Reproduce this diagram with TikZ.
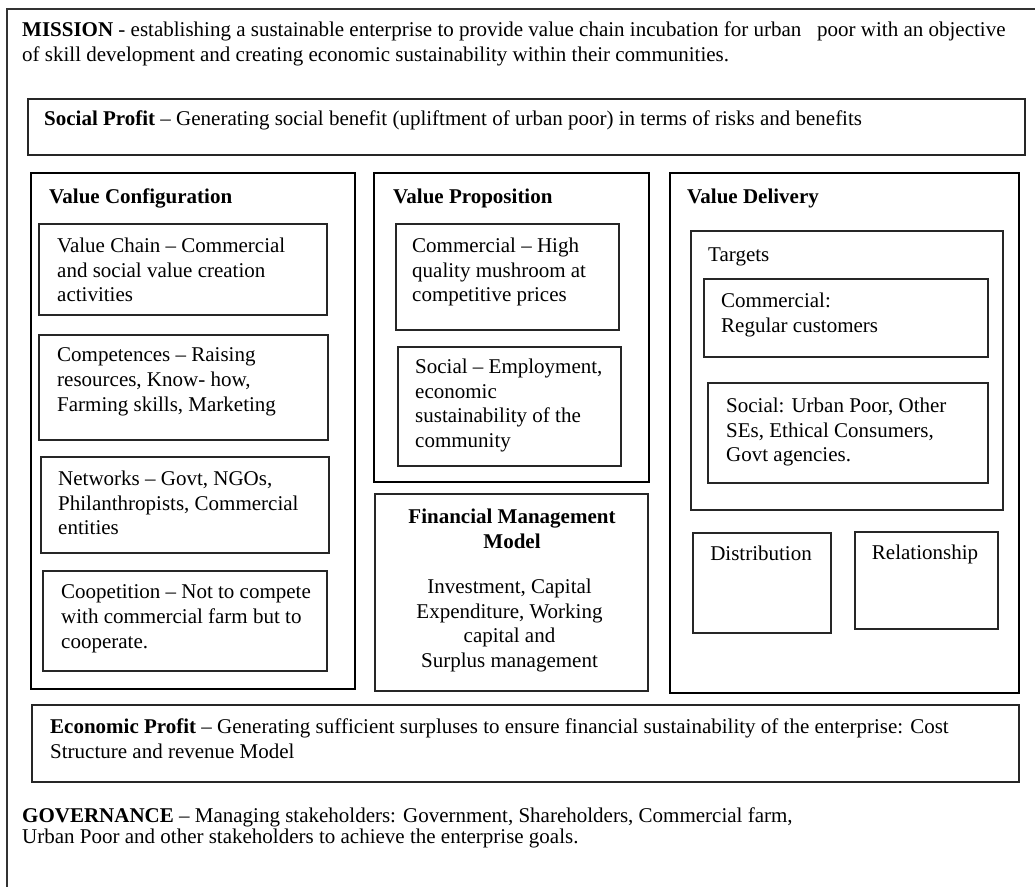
\documentclass[tikz,border=0pt]{standalone}
\usepackage{fontspec}
\setmainfont{Liberation Serif}
\usepackage{tikz}
\usetikzlibrary{positioning}

\begin{document}
\begin{tikzpicture}[x=1pt, y=-1pt,
    frame/.style={draw=black!80, line width=1.2pt},
    inbox/.style={draw=black!85, line width=1.2pt},
    groupbox/.style={draw=black, line width=2.6pt},
    txt/.style={anchor=north west, yshift=14.2pt, inner sep=0pt, align=left, font=\fontsize{21}{24.6}\selectfont},
    ctxt/.style={txt, anchor=north, align=center}]
    \useasboundingbox (0,0) rectangle (1035,886);
    \draw [frame] (1040,9) -| (7,890);
    \node [txt] (mission) at (22,36) {\textbf{MISSION} - establishing a sustainable enterprise to provide value chain incubation for urban\ \ \ poor with an objective\\of skill development and creating economic sustainability within their communities.};

    \draw [inbox] (28,99) rectangle (1025,155);
    \node [txt] (social) at (44,125) {\textbf{Social Profit} -- Generating social benefit (upliftment of urban poor) in terms of risks and benefits};

    \draw [groupbox] (31,173) rectangle (355,689);
    \node [txt] (config) at (49,203) {\textbf{Value Configuration}};
    \draw [inbox] (39,224) rectangle (327,315);
    \node [txt] (chain) at (57,252) {Value Chain -- Commercial\\and social value creation\\activities};
    \draw [inbox] (39,335) rectangle (328,440);
    \node [txt] (compet) at (57,362) {Competences -- Raising\\resources, Know- how,\\Farming skills, Marketing};
    \draw [inbox] (41,457) rectangle (329,553);
    \node [txt] (network) at (58,485) {Networks -- Govt, NGOs,\\Philanthropists, Commercial\\entities};
    \draw [inbox] (43,571) rectangle (327,671);
    \node [txt] (coopet) at (61,599) {Coopetition -- Not to compete\\with commercial farm but to\\cooperate.};

    \draw [groupbox] (374,173) rectangle (649,482);
    \node [txt] (propos) at (393,203) {\textbf{Value Proposition}};
    \draw [inbox] (396,224) rectangle (619,330);
    \node [txt] (propcom) at (412,252) {Commercial -- High\\quality mushroom at\\competitive prices};
    \draw [inbox] (398,347) rectangle (621,466);
    \node [txt] (propsoc) at (415,373) {Social -- Employment,\\economic\\sustainability of the\\community};

    \draw [inbox] (375,494) rectangle (648,691);
    \node [ctxt] (finance) at (512,523) {\textbf{Financial Management}\\\textbf{Model}};
    \node [ctxt] (finbody) at (509.5,593) {Investment, Capital\\Expenditure, Working\\capital and\\Surplus management};

    \draw [groupbox] (670,173) rectangle (1019,693);
    \node [txt] (deliver) at (687,203) {\textbf{Value Delivery}};
    \draw [inbox] (691,231) rectangle (1003,510);
    \node [txt] (targets) at (708,262) {Targets};
    \draw [inbox] (704,279) rectangle (988,357);
    \node [txt] (tgtcom) at (721,307) {Commercial:\\Regular customers};
    \draw [inbox] (708,383) rectangle (988,483);
    \node [txt] (tgtsoc) at (726,412) {Social: Urban Poor, Other\\SEs, Ethical Consumers,\\Govt agencies.};
    \draw [inbox] (693,533) rectangle (831,633);
    \node [ctxt] (distrib) at (761,560) {Distribution};
    \draw [inbox] (855,532) rectangle (998,629);
    \node [ctxt] (relation) at (925,559) {Relationship};

    \draw [inbox] (32,705) rectangle (1019,782);
    \node [txt] (economic) at (50,733) {\textbf{Economic Profit} -- Generating sufficient surpluses to ensure financial sustainability of the enterprise: Cost\\Structure and revenue Model};

    \node [txt, font=\fontsize{21}{20.5}\selectfont] (govern) at (22,822) {\textbf{GOVERNANCE} -- Managing stakeholders: Government, Shareholders, Commercial farm,\\Urban Poor and other stakeholders to achieve the enterprise goals.};
\end{tikzpicture}
\end{document}
